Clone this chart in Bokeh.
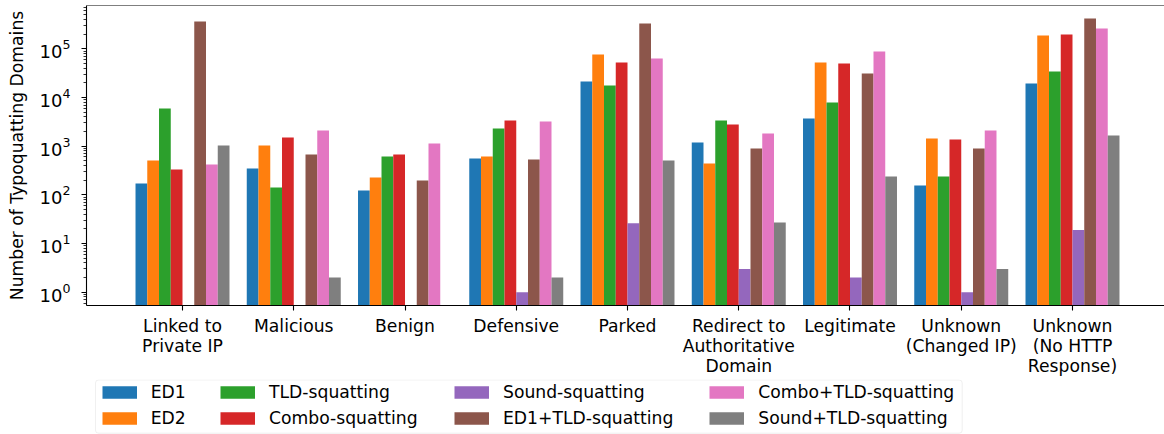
import numpy as np
from bokeh.plotting import figure
from bokeh.layouts import column
from bokeh.models import (ColumnDataSource, Range1d, FixedTicker, LogTicker, Legend,
                          LegendItem, BoxAnnotation, Span)
from bokeh.embed import file_html
from bokeh.resources import INLINE

# ---- data -------------------------------------------------------------
categories = ["Linked to\nPrivate IP", "Malicious", "Benign", "Defensive", "Parked",
              "Redirect to\nAuthoritative\nDomain", "Legitimate",
              "Unknown\n(Changed IP)", "Unknown\n(No HTTP\nResponse)"]
series_names = ["ED1", "ED2", "TLD-squatting", "Combo-squatting", "Sound-squatting",
                "ED1+TLD-squatting", "Combo+TLD-squatting", "Sound+TLD-squatting"]
ed1 = [171, 348, 123, 559, 21300, 1190, 3710, 156, 19400]
ed2 = [508, 1030, 227, 614, 76500, 441, 52400, 1440, 188000]
tld_squatting = [5940, 142, 614, 2310, 17700, 3370, 7900, 238, 34300]
combo_squatting = [332, 1510, 675, 3370, 52400, 2790, 50000, 1370, 197000]
sound_squatting = [0, 0, 0, 1, 26, 3, 2, 1, 19]
ed1_tld = [365000, 675, 197, 533, 332000, 897, 31200, 897, 420000]
combo_tld = [421, 2100, 1136, 3220, 63400, 1825, 88200, 2100, 262000]
sound_tld = [1033, 2, 0, 2, 508, 27, 238, 3, 1660]
series_values = [ed1, ed2, tld_squatting, combo_squatting, sound_squatting,
                 ed1_tld, combo_tld, sound_tld]
colors = ["#1f77b4", "#ff7f0e", "#2ca02c", "#d62728", "#9467bd",
          "#8c564b", "#e377c2", "#7f7f7f"]
y_label = "Number of Typoquatting Domains"

FONT = "DejaVu Sans"
FS = "17.2px"

y_lo, y_hi = 10 ** -0.273, 10 ** 5.89

# ---- main chart ---------------------------------------------------------
p = figure(width=1164, height=379, output_backend="svg", toolbar_location=None,
           x_range=Range1d(-0.863, 8.827), y_range=Range1d(y_lo, y_hi),
           y_axis_type="log", min_border_left=86, min_border_right=0,
           min_border_top=5, min_border_bottom=74)
p.outline_line_color = None
p.xgrid.visible = False
p.ygrid.visible = False

bw = 0.1056
for j, (vals, col) in enumerate(zip(series_values, colors)):
    xs = [i + (j - 3.5) * bw for i, v in enumerate(vals) if v > 0]
    tops = [v for v in vals if v > 0]
    src = ColumnDataSource(dict(x=xs, top=tops))
    p.vbar(x="x", top="top", bottom=1e-3, width=bw, fill_color=col,
           line_color=None, source=src)

for ax in (p.xaxis[0], p.yaxis[0]):
    ax.axis_line_color = "black"
    ax.axis_line_width = 1.1
    ax.major_tick_line_color = "black"
    ax.major_tick_line_width = 1.1
    ax.major_tick_out = 5
    ax.major_tick_in = 0
    ax.major_label_text_font = FONT
    ax.major_label_text_font_size = FS
    ax.major_label_text_color = "black"

p.xaxis.minor_tick_line_color = None
p.xaxis.ticker = FixedTicker(ticks=list(range(len(categories))))
p.xaxis.major_label_overrides = {i: c for i, c in enumerate(categories)}
p.xaxis.major_label_text_line_height = 1.0
p.xaxis.major_label_standoff = 5

p.yaxis.ticker = LogTicker(num_minor_ticks=10)
p.yaxis.major_label_text_font_size = "18px"
p.yaxis.major_label_standoff = 11
p.yaxis.minor_tick_line_color = "black"
p.yaxis.minor_tick_line_width = 0.8
p.yaxis.minor_tick_out = 3
p.yaxis.minor_tick_in = 0
p.yaxis.axis_label = y_label
p.yaxis.axis_label_text_font = FONT
p.yaxis.axis_label_text_font_size = FS
p.yaxis.axis_label_text_font_style = "normal"
p.yaxis.axis_label_text_color = "black"
p.yaxis.axis_label_standoff = 10

p.add_layout(Span(location=y_hi, dimension="width", line_color="black", line_width=1.1))

# ---- legend strip (x in page pixels, y from strip bottom) ---------------
q = figure(width=1164, height=55, output_backend="svg", toolbar_location=None,
           x_range=Range1d(86, 1164), y_range=Range1d(0, 55),
           x_axis_location=None, y_axis_location=None,
           min_border_left=86, min_border_right=0,
           min_border_top=0, min_border_bottom=0)
q.outline_line_color = None
q.xgrid.visible = False
q.ygrid.visible = False

q.add_layout(BoxAnnotation(left=95, right=961.7, top=54.5, bottom=1.3,
                           fill_color="white", fill_alpha=0.8, line_color="#cccccc",
                           line_width=1, border_radius=3))

# zero-length proxy lines that only carry the legend colours (drawn as thick swatches)
proxies = [q.line(x=[0, 0], y=[0, 0], line_width=12.7, line_color=c, line_cap="butt")
           for c in colors]

col_x = [101.7, 220, 454, 709.3]
for c in range(4):
    items = [LegendItem(label=series_names[2 * c + k], renderers=[proxies[2 * c + k]])
             for k in range(2)]
    leg = Legend(items=items, location=(col_x[c] - 86, 5.7), orientation="vertical",
                 glyph_width=35, glyph_height=20, label_standoff=14,
                 label_text_font=FONT, label_text_font_size=FS,
                 label_text_color="black", label_height=20,
                 border_line_color=None, background_fill_alpha=0,
                 padding=0, margin=0, spacing=6)
    q.add_layout(leg)

layout = column(p, q, spacing=0)
open("out.html", "w").write(file_html(layout, INLINE))
